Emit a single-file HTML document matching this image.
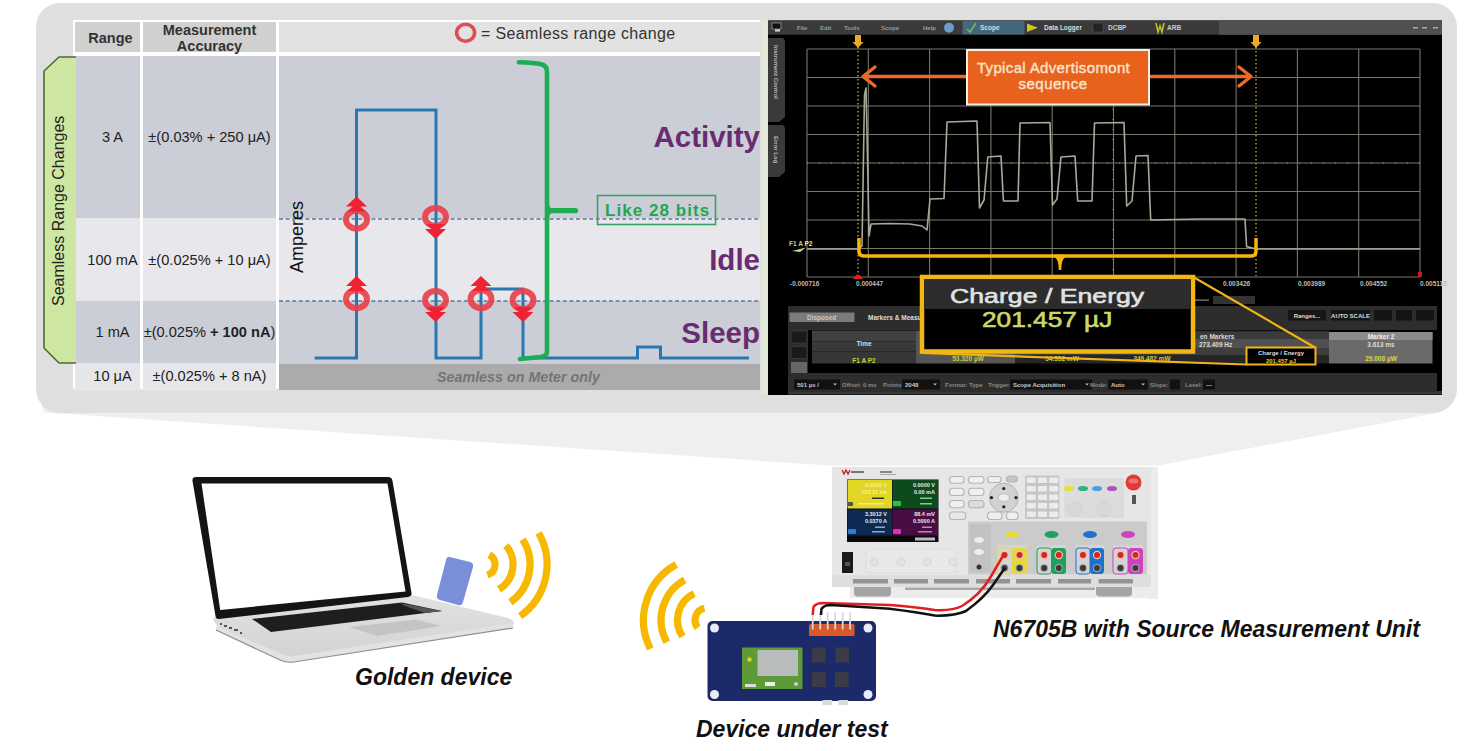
<!DOCTYPE html>
<html><head><meta charset="utf-8">
<style>
*{margin:0;padding:0;box-sizing:border-box}
html,body{width:1470px;height:751px;overflow:hidden;background:#fff;font-family:"Liberation Sans",sans-serif}
.a{position:absolute}
.t{position:absolute;white-space:nowrap;line-height:1}
</style></head><body>
<div class="a" style="left:0;top:0;width:1470px;height:751px;overflow:hidden">
<!-- funnel -->
<svg class="a" style="left:0;top:0" width="1470" height="751">
  <polygon points="40,400 44,412.5 830,465.5 1158,465.5 1437,413 1440,400" fill="#efefef"/>
</svg>

<!-- panel -->
<div class="a" style="left:36px;top:3px;width:1421px;height:410px;background:#dfdfdf;border-radius:24px"></div>

<!-- table header -->
<div class="a" style="left:73px;top:20px;width:687px;height:369px;background:#fff"></div>
<div class="a" style="left:75px;top:22px;width:65px;height:30px;background:#d0d0d0"></div>
<div class="a" style="left:143px;top:22px;width:133px;height:30px;background:#d0d0d0"></div>
<div class="a" style="left:279px;top:22px;width:481px;height:30px;background:#e2e2e2"></div>
<!-- rows -->
<div class="a" style="left:75px;top:56px;width:65px;height:162px;background:#cbced6"></div>
<div class="a" style="left:143px;top:56px;width:133px;height:162px;background:#cbced6"></div>
<div class="a" style="left:279px;top:56px;width:481px;height:162px;background:#cbced6"></div>
<div class="a" style="left:75px;top:218px;width:65px;height:83px;background:#e8e8ec"></div>
<div class="a" style="left:143px;top:218px;width:133px;height:83px;background:#e8e8ec"></div>
<div class="a" style="left:279px;top:218px;width:481px;height:83px;background:#e8e8ec"></div>
<div class="a" style="left:75px;top:301px;width:65px;height:62px;background:#cbced6"></div>
<div class="a" style="left:143px;top:301px;width:133px;height:62px;background:#cbced6"></div>
<div class="a" style="left:279px;top:301px;width:481px;height:62.5px;background:#cbced6"></div>
<div class="a" style="left:75px;top:363px;width:65px;height:28px;background:#e6e6ea"></div>
<div class="a" style="left:143px;top:363px;width:133px;height:28px;background:#e6e6ea"></div>
<div class="a" style="left:279px;top:364px;width:481px;height:26px;background:#ababab"></div>

<div class="t" style="left:78px;top:31px;width:65px;text-align:center;font-weight:bold;font-size:14.5px;color:#333">Range</div>
<div class="t" style="left:143px;top:22px;width:133px;text-align:center;font-weight:bold;font-size:14.5px;line-height:16px;color:#333">Measurement<br>Accuracy</div>
<div class="t" style="left:80px;top:130px;width:65px;text-align:center;font-size:14.6px;color:#222">3 A</div>
<div class="t" style="left:143px;top:130px;width:133px;text-align:center;font-size:14.6px;color:#222">±(0.03% + 250 μA)</div>
<div class="t" style="left:80px;top:253px;width:65px;text-align:center;font-size:14.6px;color:#222">100 mA</div>
<div class="t" style="left:143px;top:253px;width:133px;text-align:center;font-size:14.6px;color:#222">±(0.025% + 10 μA)</div>
<div class="t" style="left:80px;top:325px;width:65px;text-align:center;font-size:14.6px;color:#222">1 mA</div>
<div class="t" style="left:143px;top:325px;width:133px;text-align:center;font-size:14.6px;color:#222">±(0.025% <b>+ 100 nA</b>)</div>
<div class="t" style="left:80px;top:369px;width:65px;text-align:center;font-size:14.6px;color:#222">10 μA</div>
<div class="t" style="left:143px;top:369px;width:133px;text-align:center;font-size:14.6px;color:#222">±(0.025% + 8 nA)</div>

<!-- chart -->
<svg class="a" style="left:0;top:0" width="1470" height="751">
  <g stroke="#5578a0" stroke-width="1.7" stroke-dasharray="4 2.6">
    <line x1="279" y1="219" x2="760" y2="219"/>
    <line x1="279" y1="301" x2="760" y2="301"/>
  </g>
  <path d="M314.6,358 H356.5 V110 H436 V358 H481 V289 H523 V358 H637.5 V347 H660.5 V358 H749" fill="none" stroke="#2a77b0" stroke-width="3"/>
  <!-- green bracket -->
  <g fill="none" stroke="#1eac55" stroke-width="4.6" stroke-linecap="round">
    <path d="M519,62.3 Q534,62.5 542,64.5 Q547,66 547,72 V352 Q547,356 540,357 L520,359"/>
  </g>
  <path d="M549,210.7 H575.5" stroke="#1eac55" stroke-width="5.2" stroke-linecap="round"/><path d="M547,204 Q547.5,210.7 553,210.7 Q547.5,210.7 547,217.5" fill="none" stroke="#1eac55" stroke-width="4"/>
  <rect x="597.5" y="195.5" width="118" height="29" fill="none" stroke="#3a9f6a" stroke-width="1.6"/>
  <!-- markers -->
  <g id="mk"><ellipse cx="356.5" cy="219.5" rx="10.5" ry="9" fill="none" stroke="#e8404c" stroke-opacity="0.92" stroke-width="6"/>
<path d="M356.5,196.5 L367.0,206.5 L346.0,206.5 Z M356.5,202.5 L365.5,211.5 L347.5,211.5 Z" fill="#ee2233"/><ellipse cx="435.5" cy="217" rx="10.5" ry="9" fill="none" stroke="#e8404c" stroke-opacity="0.92" stroke-width="6"/>
<path d="M435.5,239 L446.0,229 L425.0,229 Z M435.5,233 L444.5,224 L426.5,224 Z" fill="#ee2233"/><ellipse cx="356.5" cy="299" rx="10.5" ry="9" fill="none" stroke="#e8404c" stroke-opacity="0.92" stroke-width="6"/>
<path d="M356.5,276 L367.0,286 L346.0,286 Z M356.5,282 L365.5,291 L347.5,291 Z" fill="#ee2233"/><ellipse cx="435.5" cy="300" rx="10.5" ry="9" fill="none" stroke="#e8404c" stroke-opacity="0.92" stroke-width="6"/>
<path d="M435.5,322 L446.0,312 L425.0,312 Z M435.5,316 L444.5,307 L426.5,307 Z" fill="#ee2233"/><ellipse cx="481" cy="299" rx="10.5" ry="9" fill="none" stroke="#e8404c" stroke-opacity="0.92" stroke-width="6"/>
<path d="M481,276 L491.5,286 L470.5,286 Z M481,282 L490,291 L472,291 Z" fill="#ee2233"/><ellipse cx="523" cy="300" rx="10.5" ry="9" fill="none" stroke="#e8404c" stroke-opacity="0.92" stroke-width="6"/>
<path d="M523,322 L533.5,312 L512.5,312 Z M523,316 L532,307 L514,307 Z" fill="#ee2233"/></g>
</svg>
<div class="t" style="left:605px;top:202px;font-weight:bold;font-size:17px;color:#1fa650;letter-spacing:1.05px">Like 28 bits</div>
<div class="t" style="left:560px;top:122px;width:200px;text-align:right;font-weight:bold;font-size:29.5px;color:#6a2c70">Activity</div>
<div class="t" style="left:560px;top:245px;width:200px;text-align:right;font-weight:bold;font-size:29.5px;color:#6a2c70">Idle</div>
<div class="t" style="left:560px;top:318px;width:200px;text-align:right;font-weight:bold;font-size:29.5px;color:#6a2c70">Sleep</div>
<div class="t" style="left:437px;top:370px;font-weight:bold;font-style:italic;font-size:14.3px;color:#747474">Seamless on Meter only</div>
<div class="t" style="left:481px;top:26px;font-size:16px;color:#333;letter-spacing:0.36px">= Seamless range change</div>
<div class="t" style="left:260.5px;top:228px;width:72px;text-align:center;font-size:18px;color:#111;transform:rotate(-90deg);transform-origin:36px 9px">Amperes</div>
<svg class="a" style="left:0;top:0" width="1470" height="751">
  <ellipse cx="465.6" cy="32.7" rx="9" ry="8.5" fill="none" stroke="#e44a55" stroke-width="3.5"/>
</svg>
<!-- green tab -->
<svg class="a" style="left:0;top:0" width="100" height="420">
  <path d="M76,57 H59 L44,71 V348 L59,363 H76" fill="#cde7a2" stroke="#4f6b35" stroke-width="1.6"/>
</svg>
<div class="t" style="left:-36px;top:203px;width:190px;text-align:center;font-size:16px;color:#222;transform:rotate(-90deg);transform-origin:95px 8px">Seamless Range Changes</div>

<!-- scope -->
<svg class="a" style="left:0;top:0" width="1470" height="751" font-family="Liberation Sans">
<rect x="761" y="20" width="7" height="374" fill="#e2e7d8"/>
<rect x="768" y="20.5" width="674" height="374.5" fill="#000"/><rect x="788" y="391" width="654" height="3.5" fill="#383838"/>
<rect x="768" y="20.5" width="674" height="14.2" fill="#3a3a3a"/>
<rect x="1219" y="20.5" width="223" height="14.2" fill="#505050"/>
<rect x="772" y="23" width="9" height="6" fill="#111" stroke="#999" stroke-width="0.8"/>
<rect x="775" y="29.5" width="5" height="2" fill="#ddd"/>
<text x="797" y="30" font-size="6" fill="#9a9a9a" font-weight="bold">File</text>
<text x="820" y="30" font-size="6" fill="#9a9a9a" font-weight="bold">Edit</text>
<text x="844" y="30" font-size="6" fill="#9a9a9a" font-weight="bold">Tools</text>
<text x="881" y="30" font-size="6" fill="#9a9a9a" font-weight="bold">Scope</text>
<text x="923" y="30" font-size="6" fill="#9a9a9a" font-weight="bold">Help</text>
<circle cx="949" cy="27.7" r="5" fill="#6d9ccf"/>
<rect x="962.5" y="21" width="62" height="13.5" fill="#45677d"/>
<path d="M967,29 L970,32 L976,23" fill="none" stroke="#6ac060" stroke-width="1.5"/>
<text x="980" y="30" font-size="6.5" fill="#ddd" font-weight="bold">Scope</text>
<path d="M1027,23.5 L1038,27.7 L1027,32 Z" fill="#c8c820"/>
<text x="1044" y="30" font-size="6.5" fill="#ddd" font-weight="bold">Data Logger</text>
<rect x="1093" y="23" width="10" height="9" fill="#222" stroke="#555" stroke-width="0.6"/>
<text x="1108" y="30" font-size="6.5" fill="#ccc" font-weight="bold">DCBP</text>
<path d="M1156,23 L1158,32 L1160,26 L1162,32 L1164,23" fill="none" stroke="#b8c020" stroke-width="1.6"/>
<text x="1167" y="30" font-size="6.5" fill="#ccc" font-weight="bold">ARB</text>
<rect x="1413" y="27" width="5" height="1.5" fill="#aaa"/>
<rect x="1422" y="27" width="5" height="1.5" fill="#aaa"/>
<rect x="1433" y="27" width="5" height="1.5" fill="#aaa"/>
<path d="M768,38 H781 Q785,38 785,42 V117 L779,122 H768 Z" fill="#3a3a3a"/>
<path d="M768,125 H781 Q785,125 785,129 V172 L779,177 H768 Z" fill="#3a3a3a"/>
<text transform="translate(773.5,45) rotate(90)" font-size="6" fill="#bbb" font-weight="bold">Instrument Control</text>
<text transform="translate(773.5,136) rotate(90)" font-size="6" fill="#bbb" font-weight="bold">Error Log</text>
<g stroke="#77776e" stroke-width="1.1"><line x1="807.0" y1="49" x2="807.0" y2="277" /><line x1="868.3" y1="49" x2="868.3" y2="277" /><line x1="929.6" y1="49" x2="929.6" y2="277" /><line x1="990.9" y1="49" x2="990.9" y2="277" /><line x1="1052.2" y1="49" x2="1052.2" y2="277" /><line x1="1113.5" y1="49" x2="1113.5" y2="277" /><line x1="1174.8" y1="49" x2="1174.8" y2="277" /><line x1="1236.1" y1="49" x2="1236.1" y2="277" /><line x1="1297.4" y1="49" x2="1297.4" y2="277" /><line x1="1358.7" y1="49" x2="1358.7" y2="277" /><line x1="1420.0" y1="49" x2="1420.0" y2="277" /><line x1="807" y1="49.0" x2="1420" y2="49.0" /><line x1="807" y1="77.5" x2="1420" y2="77.5" /><line x1="807" y1="106.0" x2="1420" y2="106.0" /><line x1="807" y1="134.5" x2="1420" y2="134.5" /><line x1="807" y1="163.0" x2="1420" y2="163.0" /><line x1="807" y1="191.5" x2="1420" y2="191.5" /><line x1="807" y1="220.0" x2="1420" y2="220.0" /><line x1="807" y1="248.5" x2="1420" y2="248.5" /><line x1="807" y1="277.0" x2="1420" y2="277.0" /></g>
<line x1="807" y1="163" x2="1420" y2="163" stroke="#999" stroke-width="1" stroke-dasharray="1 11"/>
<line x1="1113" y1="49" x2="1113" y2="277" stroke="#999" stroke-width="1" stroke-dasharray="1 9"/>
<g stroke="#d89a2a" stroke-width="1.4" stroke-dasharray="1.5 2.5"><line x1="858" y1="47" x2="858" y2="276"/><line x1="1256" y1="47" x2="1256" y2="276"/></g>
<path d="M855,35 H861 V42 H863.5 L858,48 L852.5,42 H855 Z" fill="#f0a820"/>
<path d="M1253,35 H1259 V42 H1261.5 L1256,48 L1250.5,42 H1253 Z" fill="#f0a820"/>
<g stroke="#ef6a24" stroke-width="3.4" fill="none" stroke-linecap="round" stroke-linejoin="round"><line x1="864" y1="76.5" x2="966" y2="76.5"/><path d="M875,67 L863,76.5 L875,86"/><line x1="1150" y1="76.5" x2="1250" y2="76.5"/><path d="M1239,67 L1251,76.5 L1239,86"/></g>
<rect x="967" y="50" width="182" height="54.5" fill="#e9621d" stroke="#f7eee4" stroke-width="2"/>
<text x="1053.5" y="73" font-size="15" fill="#f9e3cc" stroke="#f9e3cc" stroke-width="0.4" text-anchor="middle" letter-spacing="0.35">Typical Advertisomont</text>
<text x="1053" y="89" font-size="15" fill="#f9e3cc" stroke="#f9e3cc" stroke-width="0.4" text-anchor="middle" letter-spacing="0.5">sequence</text>
<polyline points="807,249 858,249 862,246 864.5,95 866,88 868,180 869,236 871,224 890,223.5 910,224 922,226 927,230 930,199 944,198.5 947,122 977,121 979.5,208 984,200 987.8,157 1001,156 1003.4,201 1018,201 1020,123 1050,122.5 1052.5,205 1057,199 1061,157 1075,156 1077.7,201 1092,201 1094.5,123 1124,122.5 1126.7,206 1132,201 1136,156 1148,155.5 1150.7,220 1200,219 1245,219 1246.6,246.6 1256,249 1420,249" fill="none" stroke="#a9a99a" stroke-width="1.6" stroke-linejoin="round"/>
<path d="M859,238 V251 Q859,256 864,256 H1251 Q1256,256 1256,251 V238" fill="none" stroke="#f3b512" stroke-width="3.5"/>
<path d="M1055,256 Q1060,258 1060,270 Q1060,258 1065,256 Z" fill="#f3b512" stroke="#f3b512" stroke-width="2.5"/>
<text x="789" y="245.5" font-size="6.5" fill="#c8cf80" font-weight="bold">F1 A <tspan fill="#e8f070">P2</tspan></text>
<path d="M792,251 L806,247.5 L800,252 Z" fill="#c8d870"/>
<text x="790" y="286" font-size="6.5" fill="#bbb" font-weight="bold">-0.000716</text>
<text x="856" y="286" font-size="6.5" fill="#bbb" font-weight="bold">0.000447</text>
<text x="1223" y="286" font-size="6.5" fill="#bbb" font-weight="bold">0.003426</text>
<text x="1298" y="286" font-size="6.5" fill="#bbb" font-weight="bold">0.003989</text>
<text x="1360" y="286" font-size="6.5" fill="#bbb" font-weight="bold">0.004552</text>
<text x="1420" y="286" font-size="6.5" fill="#bbb" font-weight="bold">0.005115</text>
<path d="M853,279 Q858,270 863,279 Z" fill="#e02020"/>
<rect x="1418" y="272" width="4" height="5" fill="#c02020"/>
<rect x="1195" y="299.5" width="14" height="1.2" fill="#888"/>
<rect x="1213" y="296" width="42" height="8" fill="#333"/>
<rect x="788" y="306" width="649" height="86" fill="#2d2d2d"/>
<rect x="789.5" y="312.5" width="65" height="9.5" fill="#7b7b7b"/>
<text x="807" y="320" font-size="6.5" fill="#c8c8c8" font-weight="bold">Disposed</text>
<text x="868" y="319.5" font-size="6.5" fill="#ddd" font-weight="bold">Markers &amp; Measurements</text>
<rect x="791" y="331" width="16" height="12" fill="#1a1a1a" stroke="#444" stroke-width="0.6"/>
<rect x="791" y="346.5" width="16" height="12" fill="#1a1a1a" stroke="#444" stroke-width="0.6"/>
<rect x="791" y="362" width="16" height="11" fill="#666"/>
<rect x="808" y="330" width="630" height="43" fill="#000"/>
<rect x="812" y="330.5" width="104" height="11" fill="#404040"/><rect x="812" y="341.5" width="104" height="10" fill="#393939"/><rect x="812" y="351.5" width="104" height="12" fill="#363636"/>
<rect x="916" y="330.5" width="2" height="33" fill="#555"/>
<rect x="918" y="330.5" width="97" height="33" fill="#555"/>
<rect x="1015" y="330.5" width="314" height="33" fill="#262626"/>
<rect x="1015" y="331.5" width="314" height="7.5" fill="#3a3a3a"/>
<rect x="1015" y="339" width="314" height="9" fill="#505050"/>
<rect x="1015" y="348" width="314" height="7" fill="#3e3e3e"/>
<rect x="1329" y="332" width="103.5" height="31.5" fill="#6a6a6a"/>
<rect x="1329" y="332" width="103.5" height="8" fill="#8b8b8b"/>
<text x="864" y="346" font-size="6.5" fill="#ddd" font-weight="bold" text-anchor="middle">Time</text>
<text x="864" y="362.5" font-size="6.5" fill="#c8d040" font-weight="bold" text-anchor="middle">F1 A P2</text>
<text x="968" y="361" font-size="6.5" fill="#c8d040" font-weight="bold" text-anchor="middle">53.320 µW</text>
<text x="1062" y="361" font-size="6.5" fill="#c8d040" font-weight="bold" text-anchor="middle">54.552 mW</text>
<text x="1152" y="361" font-size="6.5" fill="#c8d040" font-weight="bold" text-anchor="middle">349.482 mW</text>
<text x="1200" y="338.5" font-size="6.5" fill="#ddd" font-weight="bold">en Markers</text>
<text x="1199" y="346.5" font-size="6.5" fill="#ddd" font-weight="bold">273.409 Hz</text>
<text x="1381" y="338.5" font-size="6.5" fill="#eee" font-weight="bold" text-anchor="middle">Marker 2</text>
<text x="1381" y="346.5" font-size="6.5" fill="#ddd" font-weight="bold" text-anchor="middle">3.613 ms</text>
<text x="1381" y="361" font-size="6.5" fill="#d8d840" font-weight="bold" text-anchor="middle">29.008 µW</text>
<rect x="1288" y="310" width="38" height="10.5" fill="#151515"/>
<text x="1307.0" y="317.8" font-size="6" fill="#ddd" font-weight="bold" text-anchor="middle">Ranges...</text>
<rect x="1331" y="310" width="39" height="10.5" fill="#151515"/>
<text x="1350.5" y="317.8" font-size="6" fill="#ddd" font-weight="bold" text-anchor="middle">AUTO SCALE</text>
<rect x="1374" y="310" width="18" height="10.5" fill="#151515"/>
<rect x="1396" y="310" width="16" height="10.5" fill="#151515"/>
<rect x="1416" y="310" width="18" height="10.5" fill="#151515"/>
<rect x="788" y="377" width="649" height="15" fill="#2d2d2d"/>
<rect x="794" y="379.5" width="37" height="10" fill="#111"/>
<text x="797" y="386.8" font-size="6" fill="#ccc" font-weight="bold">501 µs /</text>
<rect x="830" y="379.5" width="10" height="10" fill="#111"/><path d="M833,383.5 h4 l-2,2 z" fill="#bbb"/>
<text x="842" y="386.8" font-size="6" fill="#888" font-weight="bold">Offset: 0 ms</text>
<text x="883" y="386.8" font-size="6" fill="#888" font-weight="bold">Points:</text>
<rect x="902" y="379.5" width="28" height="10" fill="#111"/>
<text x="905" y="386.8" font-size="6" fill="#ccc" font-weight="bold">2048</text>
<rect x="930" y="379.5" width="10" height="10" fill="#111"/><path d="M933,383.5 h4 l-2,2 z" fill="#bbb"/>
<text x="945" y="386.8" font-size="6" fill="#888" font-weight="bold">Format: Type</text>
<text x="988" y="386.8" font-size="6" fill="#888" font-weight="bold">Trigger:</text>
<rect x="1010" y="379.5" width="72" height="10" fill="#111"/>
<text x="1013" y="386.8" font-size="6" fill="#ccc" font-weight="bold">Scope Acquisition</text>
<rect x="1082" y="379.5" width="10" height="10" fill="#111"/><path d="M1085,383.5 h4 l-2,2 z" fill="#bbb"/>
<text x="1090" y="386.8" font-size="6" fill="#888" font-weight="bold">Mode:</text>
<rect x="1108" y="379.5" width="30" height="10" fill="#111"/>
<text x="1111" y="386.8" font-size="6" fill="#ccc" font-weight="bold">Auto</text>
<rect x="1138" y="379.5" width="10" height="10" fill="#111"/><path d="M1141,383.5 h4 l-2,2 z" fill="#bbb"/>
<text x="1150" y="386.8" font-size="6" fill="#888" font-weight="bold">Slope:</text>
<rect x="1170" y="379.5" width="10" height="10" fill="#111"/>
<text x="1185" y="386.8" font-size="6" fill="#888" font-weight="bold">Level:</text>
<rect x="1203" y="379.5" width="12" height="10" fill="#111"/>
<text x="1206" y="386.8" font-size="6" fill="#ccc" font-weight="bold">---</text>
<g stroke="#f0b418" stroke-width="2.2" fill="none"><line x1="1195" y1="278" x2="1315" y2="347.5"/><line x1="922" y1="353" x2="1246" y2="364.5"/></g>
<rect x="1246.5" y="347.5" width="69" height="17" fill="#000" stroke="#f0b418" stroke-width="2"/>
<text x="1281" y="354.5" font-size="6" fill="#ddd" font-weight="bold" text-anchor="middle">Charge / Energy</text>
<text x="1281" y="362.5" font-size="6" fill="#d8d840" font-weight="bold" text-anchor="middle">201.457 µJ</text>
<rect x="922" y="277" width="271" height="74.5" fill="#000" stroke="#f3b612" stroke-width="4.5"/>
<rect x="924.5" y="279.5" width="266" height="29.5" fill="#2c2c2c"/>
</svg>
<div class="t" style="left:950px;top:285px;font-size:21px;color:#e2e2e2;-webkit-text-stroke:0.6px #e2e2e2;transform:scaleX(1.27);transform-origin:0 0">Charge / Energy</div>
<div class="t" style="left:982px;top:310px;font-size:21.5px;color:#c9d86a;-webkit-text-stroke:0.6px #c9d86a;transform:scaleX(1.22);transform-origin:0 0">201.457 µJ</div>
<!-- bottom -->
<svg class="a" style="left:0;top:0" width="1470" height="751" font-family="Liberation Sans">
<defs>
<linearGradient id="lapbase" x1="0" y1="0" x2="0" y2="1"><stop offset="0" stop-color="#e2e2e2"/><stop offset="1" stop-color="#d2d2d2"/></linearGradient>
<linearGradient id="lapfront" x1="0" y1="0" x2="1" y2="0"><stop offset="0" stop-color="#c8c8c8"/><stop offset="0.5" stop-color="#d9d9d9"/><stop offset="1" stop-color="#e6e6e6"/></linearGradient>
</defs>
<path d="M214,617 L412,595 L508,618 Q516,621 513,625 L292,660 Q286,661 280,658 L220,628 Q212,622 214,617 Z" fill="url(#lapbase)"/>
<path d="M216,626 L282,654 Q288,657 294,656 L513,623 L513,628 L294,662 Q287,663 280,660 L216,630 Z" fill="#e2e2e2"/>
<path d="M216,630 L280,660 Q287,663 294,662 L513,628" fill="none" stroke="#8f8f8f" stroke-width="1.2"/>
<g fill="#555"><rect x="220" y="623" width="2" height="2"/><rect x="224" y="625" width="3" height="2"/><rect x="229" y="627" width="3" height="2"/><rect x="234" y="629" width="4" height="2"/><rect x="240" y="632" width="2" height="2"/></g>
<path d="M252,619 L402,602.5 L442,611 L271,632 Z" fill="#1e1e1e"/>
<path d="M400,603 L442,611 L425,613 L405,606 Z" fill="#555"/>
<path d="M349,627 L416,619.5 L442,626 L377,636 Z" fill="#c4c4c4"/>
<path d="M196,477 H388 Q392,477 392.5,481 L411.5,593 Q412,596 408,597 L219,619 Q216,619.5 215.5,616 L192.5,481 Q192,477 196,477 Z" fill="#141414"/>
<path d="M201.5,483.5 L387.5,483.5 L405.5,591.4 L220.2,610 Z" fill="#fff"/>
<path d="M450,557 L470,562 Q474,563 473,567 L463,602 Q462,606 458,605 L440,600 Q436,599 437,595 L446,560 Q447,556 450,557 Z" fill="#7b8ed8"/>
<path d="M489.2,554.8 A11,11 0 0 1 487.4,575.0" fill="none" stroke="#f6b800" stroke-width="7.2"/>
<path d="M505.9,545.5 A29,29 0 0 1 498.9,589.4" fill="none" stroke="#f6b800" stroke-width="7.2"/>
<path d="M522.6,539.4 A46,46 0 0 1 510.4,602.2" fill="none" stroke="#f6b800" stroke-width="7.2"/>
<path d="M538.6,533.0 A63,63 0 0 1 520.1,616.1" fill="none" stroke="#f6b800" stroke-width="7.2"/>
<path d="M697.8,627.7 A12,12 0 0 1 704.5,608.3" fill="none" stroke="#f6b800" stroke-width="7.2"/>
<path d="M682.5,636.5 A29.5,29.5 0 0 1 694.1,593.5" fill="none" stroke="#f6b800" stroke-width="7.2"/>
<path d="M666.8,642.3 A46,46 0 0 1 684.7,579.8" fill="none" stroke="#f6b800" stroke-width="7.2"/>
<path d="M650.4,648.8 A63.5,63.5 0 0 1 676.2,564.5" fill="none" stroke="#f6b800" stroke-width="7.2"/>
<rect x="1148" y="467" width="10" height="132" fill="#ececec"/>
<rect x="850" y="585" width="300" height="13" fill="#ececec"/>
<rect x="832" y="467" width="319" height="120" fill="#e6e6e6"/>
<rect x="832" y="575" width="319" height="12" fill="#dedede"/>
<rect x="853" y="579" width="35" height="4.5" fill="#949494"/>
<rect x="894" y="579" width="34" height="4.5" fill="#949494"/>
<rect x="934" y="579" width="35" height="4.5" fill="#949494"/>
<rect x="976" y="579" width="34" height="4.5" fill="#949494"/>
<rect x="1016" y="579" width="35" height="4.5" fill="#949494"/>
<rect x="1058" y="579" width="33" height="4.5" fill="#949494"/>
<rect x="1098.6" y="579" width="34.40000000000009" height="4.5" fill="#949494"/>
<path d="M854,587 H891 V593 Q891,596.5 887,596.5 H858 Q854,596.5 854,593 Z" fill="#a4a4a4"/>
<path d="M1096,587 H1132 V593 Q1132,596.5 1128,596.5 H1100 Q1096,596.5 1096,593 Z" fill="#a4a4a4"/>
<rect x="905" y="587.5" width="190" height="2.5" fill="#a8a8a8"/>
<path d="M842,470 l2,4 l2,-4 l2,4 l2,-4" fill="none" stroke="#d02030" stroke-width="1.4"/>
<rect x="851" y="471" width="13" height="2" fill="#777"/><rect x="880" y="471" width="12" height="2" fill="#888"/><rect x="880" y="474" width="16" height="1" fill="#aaa"/>
<rect x="847" y="479.5" width="91.5" height="62.5" fill="#0a0a0a"/>
<rect x="847.5" y="480" width="44.5" height="28.5" fill="#e2d624"/>
<rect x="892.5" y="480" width="45.5" height="28.5" fill="#0d4a1e"/>
<rect x="847.5" y="509.5" width="44.5" height="26" fill="#0c2a52"/>
<rect x="892.5" y="509.5" width="45.5" height="26" fill="#4a0c44"/>
<g font-size="5.5" font-weight="bold" text-anchor="end"><text x="887" y="487" fill="#f4f0a0">0.0000 V</text><text x="887" y="493.5" fill="#f4f0a0">123.17 nA</text><text x="935" y="487" fill="#e8e8e8">0.0000 V</text><text x="935" y="493.5" fill="#e8e8e8">0.00 mA</text><text x="887" y="516" fill="#e8e8e8">3.3012 V</text><text x="887" y="522.5" fill="#e8e8e8">0.0370 A</text><text x="935" y="516" fill="#e8e8e8">88.4 mV</text><text x="935" y="522.5" fill="#e8e8e8">0.5000 A</text></g>
<g fill="#9aa"><rect x="872" y="497.5" width="12" height="1.5" fill="#333"/><rect x="858" y="503" width="26" height="1.5" fill="#f0e890"/><rect x="920" y="497.5" width="12" height="1.5" fill="#8c8"/><rect x="920" y="503" width="12" height="1.5" fill="#8c8"/><rect x="875" y="526.5" width="10" height="1.5" fill="#8ab"/><rect x="872" y="531" width="13" height="1.5" fill="#8ab"/><rect x="922" y="526.5" width="10" height="1.5" fill="#b8a"/><rect x="918" y="531" width="14" height="1.5" fill="#b8a"/><rect x="915" y="537.5" width="20" height="3" fill="#bbb"/></g>
<rect x="848" y="502" width="5" height="4" fill="#555"/><rect x="893" y="501" width="8" height="5" fill="#30c040"/>
<rect x="848" y="529" width="8" height="5" rx="1" fill="#2a80d0"/><rect x="893" y="529" width="8" height="5" rx="1" fill="#e030b0"/>
<rect x="949.5" y="476.5" width="14.5" height="6.800000000000011" rx="3" fill="#efefef" stroke="#b4b4b4" stroke-width="1.1"/>
<rect x="968.5" y="476.5" width="15.5" height="6.800000000000011" rx="3" fill="#efefef" stroke="#b4b4b4" stroke-width="1.1"/>
<rect x="949.5" y="488.2" width="14.5" height="7.300000000000011" rx="3" fill="#efefef" stroke="#b4b4b4" stroke-width="1.1"/>
<rect x="968.5" y="488.2" width="15.5" height="7.300000000000011" rx="3" fill="#efefef" stroke="#b4b4b4" stroke-width="1.1"/>
<rect x="949.5" y="500.5" width="14.5" height="7.199999999999989" rx="3" fill="#efefef" stroke="#b4b4b4" stroke-width="1.1"/>
<rect x="968.5" y="500.5" width="15.5" height="7.199999999999989" rx="3" fill="#dcdcdc" stroke="#b4b4b4" stroke-width="1.1"/>
<rect x="987.5" y="476.5" width="13.5" height="6.0" rx="3" fill="#efefef" stroke="#b4b4b4" stroke-width="1.1"/>
<rect x="1006.5" y="476" width="10.899999999999977" height="6" rx="3" fill="#c4c4c4" stroke="#b4b4b4" stroke-width="1.1"/>
<rect x="949.5" y="512" width="16.299999999999955" height="7.5" rx="3" fill="#e8e8e8" stroke="#b4b4b4" stroke-width="1.1"/>
<rect x="987.5" y="512" width="14.5" height="7.5" rx="3" fill="#efefef" stroke="#b4b4b4" stroke-width="1.1"/>
<rect x="1006.5" y="512" width="11.5" height="7.5" rx="3" fill="#efefef" stroke="#b4b4b4" stroke-width="1.1"/>
<circle cx="1003.8" cy="497.7" r="14.5" fill="#d2d2d2" stroke="#b4b4b4" stroke-width="1"/><ellipse cx="1003.8" cy="497.7" rx="5.5" ry="4" fill="#ededed" stroke="#b8b8b8" stroke-width="0.8"/>
<g fill="#222"><circle cx="1003.8" cy="488.5" r="1.6"/><circle cx="1003.8" cy="506.8" r="1.6"/><circle cx="991.5" cy="497.7" r="1.6"/><circle cx="1016" cy="497.7" r="1.6"/></g>
<rect x="1025" y="475.6" width="34.4" height="43.4" rx="1.5" fill="#c6c6c6"/>
<g fill="#ececec">
<rect x="1026.8" y="477.5" width="9" height="5.5" rx="1"/>
<rect x="1038.0" y="477.5" width="9" height="5.5" rx="1"/>
<rect x="1049.2" y="477.5" width="9" height="5.5" rx="1"/>
<rect x="1026.8" y="486.0" width="9" height="5.5" rx="1"/>
<rect x="1038.0" y="486.0" width="9" height="5.5" rx="1"/>
<rect x="1049.2" y="486.0" width="9" height="5.5" rx="1"/>
<rect x="1026.8" y="494.5" width="9" height="5.5" rx="1"/>
<rect x="1038.0" y="494.5" width="9" height="5.5" rx="1"/>
<rect x="1049.2" y="494.5" width="9" height="5.5" rx="1"/>
<rect x="1026.8" y="503.0" width="9" height="5.5" rx="1"/>
<rect x="1038.0" y="503.0" width="9" height="5.5" rx="1"/>
<rect x="1049.2" y="503.0" width="9" height="5.5" rx="1"/>
<rect x="1026.8" y="511.5" width="9" height="5.5" rx="1"/>
<rect x="1038.0" y="511.5" width="9" height="5.5" rx="1"/>
<rect x="1049.2" y="511.5" width="9" height="5.5" rx="1"/>
</g>
<rect x="1065" y="479" width="58" height="38" fill="#dcdcdc" stroke="#cfcfcf" stroke-width="0.6"/>
<ellipse cx="1069" cy="488.5" rx="5" ry="2.6" fill="#e6e030"/>
<ellipse cx="1083" cy="488.5" rx="5" ry="2.6" fill="#30b080"/>
<ellipse cx="1097" cy="488.5" rx="5" ry="2.6" fill="#4aa0e0"/>
<ellipse cx="1112" cy="488.5" rx="5" ry="2.6" fill="#b050c0"/>
<circle cx="1075" cy="509" r="7" fill="#d8d8d8" stroke="#cacaca" stroke-width="0.6"/><circle cx="1104" cy="509" r="7" fill="#d8d8d8" stroke="#cacaca" stroke-width="0.6"/>
<circle cx="1133.5" cy="482.5" r="8" fill="#e03a3a"/><ellipse cx="1133.5" cy="481" rx="5" ry="2.5" fill="#f07070"/>
<rect x="1132" y="495" width="4" height="9" fill="#555"/>
<rect x="842" y="552" width="11" height="21" fill="#1a1a1a"/><rect x="845" y="562" width="5" height="4" fill="#555"/>
<rect x="866" y="549" width="90" height="24" rx="4" fill="#e8e8e8" stroke="#d6d6d6" stroke-width="0.6"/>
<circle cx="874" cy="562" r="4" fill="#e2e2e2" stroke="#cfcfcf" stroke-width="0.6"/>
<circle cx="901" cy="562" r="4" fill="#e2e2e2" stroke="#cfcfcf" stroke-width="0.6"/>
<circle cx="927" cy="562" r="4" fill="#e2e2e2" stroke="#cfcfcf" stroke-width="0.6"/>
<circle cx="953" cy="562" r="4" fill="#e2e2e2" stroke="#cfcfcf" stroke-width="0.6"/>
<rect x="968" y="521.5" width="179" height="53" fill="#cbcbcb"/>
<rect x="970" y="524" width="21" height="48" fill="#c2c2c2"/>
<ellipse cx="979" cy="540" rx="5" ry="3" fill="#eee"/><ellipse cx="979" cy="552" rx="5" ry="3" fill="#eee"/><circle cx="979" cy="567" r="2.5" fill="#333"/>
<rect x="997" y="545" width="30" height="29" fill="#d4d4d4"/>
<rect x="1012.0" y="548" width="15.0" height="26" rx="3" fill="#e7d840"/>
<rect x="997" y="548" width="15.0" height="26" rx="3" fill="none" stroke="#e7d840" stroke-width="1"/>
<ellipse cx="1012.0" cy="534.5" rx="7" ry="3.5" fill="#e7d840"/>
<circle cx="1004.5" cy="555" r="4.2" fill="#f3c0a8"/><circle cx="1004.5" cy="555" r="3" fill="#d02a20"/>
<circle cx="1004.5" cy="568" r="4" fill="#aaa"/><circle cx="1004.5" cy="568" r="3" fill="#3a3a3a"/>
<circle cx="1019.5" cy="555" r="4.2" fill="#f3c0a8"/><circle cx="1019.5" cy="555" r="3" fill="#d02a20"/>
<circle cx="1019.5" cy="568" r="4" fill="#aaa"/><circle cx="1019.5" cy="568" r="3" fill="#3a3a3a"/>
<rect x="1037" y="545" width="29" height="29" fill="#d4d4d4"/>
<rect x="1051.5" y="548" width="14.5" height="26" rx="3" fill="#20a060"/>
<rect x="1037" y="548" width="14.5" height="26" rx="3" fill="none" stroke="#20a060" stroke-width="1"/>
<ellipse cx="1051.5" cy="534.5" rx="7" ry="3.5" fill="#20a060"/>
<circle cx="1044.2" cy="555" r="4.2" fill="#f3c0a8"/><circle cx="1044.2" cy="555" r="3" fill="#d02a20"/>
<circle cx="1044.2" cy="568" r="4" fill="#aaa"/><circle cx="1044.2" cy="568" r="3" fill="#3a3a3a"/>
<circle cx="1058.8" cy="555" r="4.2" fill="#f3c0a8"/><circle cx="1058.8" cy="555" r="3" fill="#d02a20"/>
<circle cx="1058.8" cy="568" r="4" fill="#aaa"/><circle cx="1058.8" cy="568" r="3" fill="#3a3a3a"/>
<rect x="1076" y="545" width="28" height="29" fill="#d4d4d4"/>
<rect x="1090.0" y="548" width="14.0" height="26" rx="3" fill="#2070d0"/>
<rect x="1076" y="548" width="14.0" height="26" rx="3" fill="none" stroke="#2070d0" stroke-width="1"/>
<ellipse cx="1090.0" cy="534.5" rx="7" ry="3.5" fill="#2070d0"/>
<circle cx="1083.0" cy="555" r="4.2" fill="#f3c0a8"/><circle cx="1083.0" cy="555" r="3" fill="#d02a20"/>
<circle cx="1083.0" cy="568" r="4" fill="#aaa"/><circle cx="1083.0" cy="568" r="3" fill="#3a3a3a"/>
<circle cx="1097.0" cy="555" r="4.2" fill="#f3c0a8"/><circle cx="1097.0" cy="555" r="3" fill="#d02a20"/>
<circle cx="1097.0" cy="568" r="4" fill="#aaa"/><circle cx="1097.0" cy="568" r="3" fill="#3a3a3a"/>
<rect x="1113" y="545" width="30" height="29" fill="#d4d4d4"/>
<rect x="1128.0" y="548" width="15.0" height="26" rx="3" fill="#d040c0"/>
<rect x="1113" y="548" width="15.0" height="26" rx="3" fill="none" stroke="#d040c0" stroke-width="1"/>
<ellipse cx="1128.0" cy="534.5" rx="7" ry="3.5" fill="#d040c0"/>
<circle cx="1120.5" cy="555" r="4.2" fill="#f3c0a8"/><circle cx="1120.5" cy="555" r="3" fill="#d02a20"/>
<circle cx="1120.5" cy="568" r="4" fill="#aaa"/><circle cx="1120.5" cy="568" r="3" fill="#3a3a3a"/>
<circle cx="1135.5" cy="555" r="4.2" fill="#f3c0a8"/><circle cx="1135.5" cy="555" r="3" fill="#d02a20"/>
<circle cx="1135.5" cy="568" r="4" fill="#aaa"/><circle cx="1135.5" cy="568" r="3" fill="#3a3a3a"/>
<rect x="707.5" y="621" width="168.5" height="80" rx="5" fill="#1c2a6a"/>
<circle cx="714.5" cy="628" r="4.5" fill="#e8ecf4"/>
<circle cx="868" cy="628" r="4.5" fill="#e8ecf4"/>
<circle cx="714.5" cy="694.5" r="4.5" fill="#e8ecf4"/>
<circle cx="868" cy="694.5" r="4.5" fill="#e8ecf4"/>
<rect x="742" y="647.5" width="60.5" height="41.5" fill="#5e9a38"/>
<rect x="757.5" y="650" width="40.5" height="26" fill="#b8bcbc"/>
<circle cx="749.5" cy="659.5" r="2.2" fill="#e8d020"/>
<rect x="745" y="684" width="11" height="3" fill="#ddd"/><rect x="765" y="682" width="10" height="4" fill="#eee"/><circle cx="796" cy="684" r="2" fill="#ccd"/>
<g fill="#3c3c48">
<rect x="812" y="647.5" width="13.5" height="15" />
<rect x="835.5" y="647.5" width="13.5" height="15" />
<rect x="812" y="672" width="13.5" height="15" />
<rect x="835" y="672" width="13.5" height="15" />
</g>
<rect x="822.5" y="700" width="9.5" height="5" fill="#d8d8e0"/><rect x="838.5" y="700" width="9.5" height="5" fill="#d8d8e0"/>
<rect x="809" y="624" width="45.5" height="12" rx="1.5" fill="#d85a2a"/>
<rect x="811.8" y="612.5" width="1.8" height="17" fill="#d8d8d8"/>
<rect x="819.3" y="612.5" width="1.8" height="17" fill="#d8d8d8"/>
<rect x="826.8" y="612.5" width="1.8" height="17" fill="#d8d8d8"/>
<rect x="834.3" y="612.5" width="1.8" height="17" fill="#d8d8d8"/>
<rect x="841.8" y="612.5" width="1.8" height="17" fill="#d8d8d8"/>
<rect x="849.2" y="612.5" width="1.8" height="17" fill="#d8d8d8"/>
<path d="M812.7,615 L813.5,607 Q816,603 823,603 L889.8,605 Q915,607 934.7,610 Q952,611 962,606 Q980,595 990,578 L1003.5,555" fill="none" stroke="#e02020" stroke-width="2.5"/>
<path d="M821,615 L821.5,609 Q824,605 831,605 L889.8,608.8 Q915,612 934.7,615.6 Q955,616 966,611 Q984,598 993,585 L1005,567.7" fill="none" stroke="#111" stroke-width="2.5"/>
</svg>
<div class="t" style="left:355px;top:666px;font-weight:bold;font-style:italic;font-size:23px;color:#111">Golden device</div>
<div class="t" style="left:696px;top:718px;font-weight:bold;font-style:italic;font-size:23px;color:#111">Device under test</div>
<div class="t" style="left:993px;top:618px;font-weight:bold;font-style:italic;font-size:23px;color:#111">N6705B with Source Measurement Unit</div>

</div>
</body></html>
